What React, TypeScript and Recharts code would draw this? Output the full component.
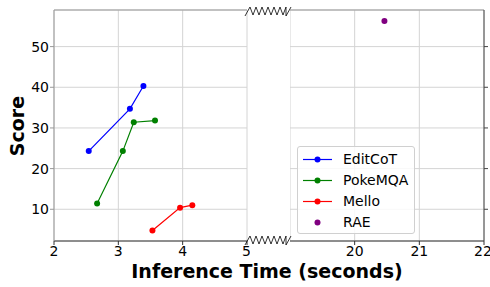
import React from "react";
import {
  LineChart,
  Line,
  ComposedChart,
  Scatter,
  XAxis,
  YAxis,
  CartesianGrid,
  ReferenceLine,
} from "recharts";

// values
const editCotTime = [2.54, 3.18, 3.39];
const editCotScore = [24.3, 34.7, 40.3];
const pokeTime = [2.67, 3.07, 3.24, 3.57];
const pokeScore = [11.4, 24.3, 31.4, 31.8];
const melloTime = [3.53, 3.96, 4.15];
const melloScore = [4.8, 10.4, 11.0];
const raeTime = [20.46];
const raeScore = [56.3];

const leftTicks = [2, 3, 4, 5];
const rightTicks = [19, 20, 21, 22];
const scoreTicks = [10, 20, 30, 40, 50];
const scoreDomain = [2.2, 59];

const seriesNames = ["EditCoT", "PokeMQA", "Mello", "RAE"];
const seriesColors = ["#0000ff", "#008000", "#ff0000", "#800080"];

const zip = (xs: number[], ys: number[]) => xs.map((x, i) => ({ x, y: ys[i] }));

const lineSeries = [
  zip(editCotTime, editCotScore),
  zip(pokeTime, pokeScore),
  zip(melloTime, melloScore),
];
const raeData = zip(raeTime, raeScore);

const FONT = "'DejaVu Sans', sans-serif";
const tickStyle = { fontSize: 14, fill: "#000", fontFamily: FONT };
const GRID = "#d4d4d4";

// zigzag break mark between the two panels
function zigzag(yc: number) {
  const pts: number[][] = [[245, yc + 5], [250, yc - 4]];
  for (let i = 0; i < 6; i++) {
    const x = 250 + i * 6;
    pts.push([x + 3, yc + 4], [x + 6, yc - 4]);
  }
  pts.push([286, yc + 5], [291, yc - 4]);
  return pts.map((p) => p.join(",")).join(" ");
}

export default function App() {
  return (
    <div style={{ position: "absolute", left: 0, top: 0, width: 490, height: 287, background: "#fff", fontFamily: FONT }}>
      {/* left panel: 2-5 s */}
      <div style={{ position: "absolute", left: 0, top: 0 }}>
        <LineChart width={250} height={287} margin={{ top: 10, right: 3, bottom: 0, left: 0 }}>
          <CartesianGrid stroke={GRID} />
          <XAxis
            dataKey="x"
            type="number"
            domain={[2, 5]}
            ticks={leftTicks}
            height={46}
            tickSize={4}
            tickMargin={1}
            tick={tickStyle}
            stroke="#333"
            allowDataOverflow
          />
          <YAxis
            type="number"
            domain={scoreDomain}
            ticks={scoreTicks}
            width={54}
            tickSize={4}
            tickMargin={1}
            tick={tickStyle}
            stroke="#999"
            allowDataOverflow
          />
          <ReferenceLine y={scoreDomain[1]} stroke="#999" />
          {lineSeries.map((d, i) => (
            <Line
              key={seriesNames[i]}
              data={d}
              dataKey="y"
              name={seriesNames[i]}
              stroke={seriesColors[i]}
              strokeWidth={1.2}
              dot={{ r: 3, fill: seriesColors[i], stroke: seriesColors[i], strokeWidth: 0 }}
              isAnimationActive={false}
            />
          ))}
        </LineChart>
      </div>

      {/* right panel: 19-22 s */}
      <div style={{ position: "absolute", left: 290, top: 0 }}>
        <ComposedChart width={200} height={287} margin={{ top: 10, right: 0, bottom: 0, left: 0 }}>
          <CartesianGrid stroke={GRID} />
          <XAxis
            dataKey="x"
            type="number"
            domain={[19, 22]}
            ticks={rightTicks}
            height={46}
            tickSize={4}
            tickMargin={1}
            tick={tickStyle}
            stroke="#333"
            allowDataOverflow
          />
          <YAxis
            orientation="right"
            type="number"
            dataKey="y"
            domain={scoreDomain}
            ticks={scoreTicks}
            width={6}
            tickSize={4}
            tickFormatter={() => ""}
            stroke="#444"
            allowDataOverflow
          />
          <ReferenceLine y={scoreDomain[1]} stroke="#999" />
          <Scatter
            data={raeData}
            dataKey="y"
            name="RAE"
            fill={seriesColors[3]}
            shape={(p: any) => <circle cx={p.cx} cy={p.cy} r={3} fill={seriesColors[3]} />}
            isAnimationActive={false}
          />
        </ComposedChart>
      </div>

      {/* break marks and axis titles */}
      <svg width={490} height={287} style={{ position: "absolute", left: 0, top: 0, pointerEvents: "none" }}>
        <polyline points={zigzag(11)} fill="none" stroke="#000" strokeWidth={0.8} />
        <polyline points={zigzag(240)} fill="none" stroke="#000" strokeWidth={0.8} />
        <text
          x={0}
          y={0}
          transform="translate(24,126) rotate(-90)"
          textAnchor="middle"
          fontFamily={FONT}
          fontWeight="bold"
          fontSize={19}
          fill="#000"
        >
          Score
        </text>
        <text x={267} y={278} textAnchor="middle" fontFamily={FONT} fontWeight="bold" fontSize={19} fill="#000">
          Inference Time (seconds)
        </text>
      </svg>

      {/* legend */}
      <div
        style={{
          position: "absolute",
          left: 297,
          top: 146,
          width: 116,
          height: 86,
          border: "1px solid #d0d0d0",
          borderRadius: 3,
          background: "rgba(255,255,255,0.85)",
        }}
      >
        {seriesNames.map((name, i) => (
          <div key={name} style={{ position: "absolute", left: 0, top: 2 + i * 21, height: 21, width: 116 }}>
            <svg width={40} height={21} style={{ position: "absolute", left: 0, top: 0 }}>
              {i < 3 && <line x1={5} x2={34} y1={10.5} y2={10.5} stroke={seriesColors[i]} strokeWidth={1.2} />}
              <circle cx={19.5} cy={10.5} r={3} fill={seriesColors[i]} />
            </svg>
            <span
              style={{
                position: "absolute",
                left: 45,
                top: 0,
                lineHeight: "21px",
                fontSize: 14,
                color: "#000",
                fontFamily: FONT,
              }}
            >
              {name}
            </span>
          </div>
        ))}
      </div>
    </div>
  );
}
